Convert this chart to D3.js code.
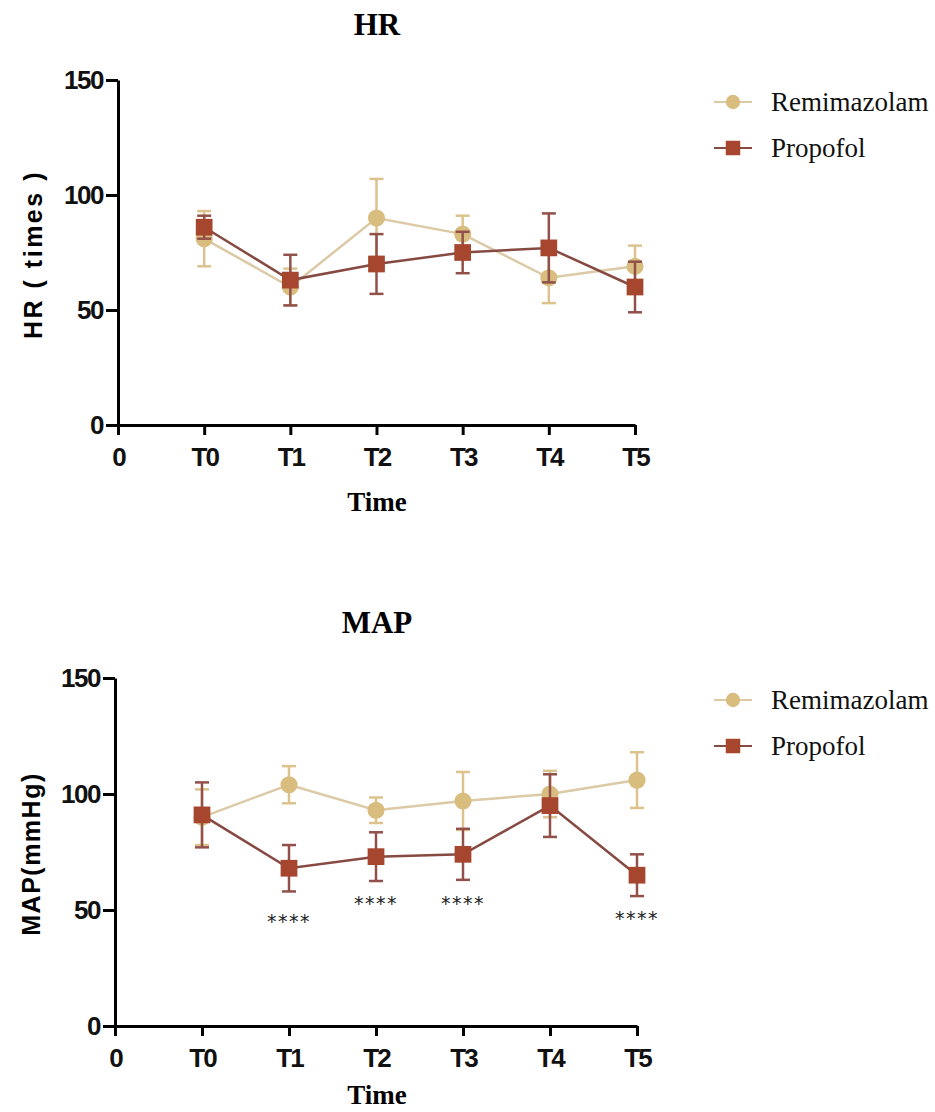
<!DOCTYPE html>
<html lang="en">
<head>
  <meta charset="UTF-8">
  <title>HR / MAP</title>
  <script src="https://cdnjs.cloudflare.com/ajax/libs/d3/7.8.5/d3.min.js"></script>
  <style>
    * { margin: 0; padding: 0; }
    html, body { background: #fff; }
    .tick text { font-family: "Liberation Sans", Arial, sans-serif; font-weight: bold; }
  </style>
</head>
<body>
<div id="app"></div>
<script>
  // time points and ticks
  const timePoints = ['T0', 'T1', 'T2', 'T3', 'T4', 'T5']
  const xTickLabels = ['0'].concat(timePoints)
  const yTicks = [0, 50, 100, 150]
  const seriesNames = ['Remimazolam', 'Propofol']

  // HR (times): mean and error
  const hrRemiMean = [81, 60, 90, 83, 64, 69]
  const hrRemiErr = [12, 8, 17, 8, 11, 9]
  const hrPropMean = [86, 63, 70, 75, 77, 60]
  const hrPropErr = [5, 11, 13, 9, 15, 11]

  // MAP (mmHg): mean and error
  const mapRemiMean = [90, 104, 93, 97, 100, 106]
  const mapRemiErr = [12, 8, 5.5, 12.5, 10, 12]
  const mapPropMean = [91, 68, 73, 74, 95, 65]
  const mapPropErr = [14, 10, 10.5, 11, 13.5, 9]

  // significance marks under Propofol (value where the stars sit)
  const mapStars = ['', '****', '****', '****', '', '****']
  const mapStarAt = [null, 47, 55, 55, null, 48.5]

  const remiColor = '#d8bd7f', remiLine = '#dcc9a6', remiBar = '#dcc38e'
  const propColor = '#a6462e', propLine = '#864a42', propBar = '#92504a'

  const W = 935, H = 1112
  const svg = d3.select('#app').append('svg')
    .attr('width', W).attr('height', H)
    .attr('viewBox', [0, 0, W, H])

  function panel(opt) {
    const g = svg.append('g')
    const x = d3.scalePoint().domain(xTickLabels).range([opt.left, opt.right])
    const y = d3.scaleLinear().domain([0, 150]).range([opt.bottom, opt.top])

    // title
    g.append('text')
      .attr('x', 377).attr('y', opt.titleY)
      .attr('text-anchor', 'middle')
      .attr('font-family', '"Liberation Serif", "Times New Roman", serif')
      .attr('font-weight', 'bold').attr('font-size', 31)
      .text(opt.title)

    // axes
    const ya = g.append('g').attr('transform', `translate(${opt.left},0)`)
      .call(d3.axisLeft(y).tickValues(yTicks).tickSize(12).tickSizeOuter(0).tickPadding(3))
    const xa = g.append('g').attr('transform', `translate(0,${opt.bottom})`)
      .call(d3.axisBottom(x).tickSize(10).tickSizeOuter(0).tickPadding(13))
    ;[ya, xa].forEach(a => {
      a.select('.domain').attr('stroke', '#000').attr('stroke-width', 3)
      a.selectAll('.tick line').attr('stroke', '#000').attr('stroke-width', 3)
      a.selectAll('.tick text').attr('fill', '#111').attr('font-size', 26)
    })
    ya.selectAll('.tick text').attr('letter-spacing', -1.5)
    xa.selectAll('.tick text').attr('letter-spacing', -2)

    // axis labels
    g.append('text')
      .attr('transform', `translate(${opt.yLabelX},${(opt.top + opt.bottom) / 2 + 2}) rotate(-90)`)
      .attr('text-anchor', 'middle')
      .attr('font-family', '"Liberation Sans", Arial, sans-serif')
      .attr('font-weight', 'bold').attr('font-size', 25)
      .attr('letter-spacing', opt.yLabelSpacing)
      .text(opt.yLabel)
    g.append('text')
      .attr('x', 377).attr('y', opt.bottom + opt.timeDy)
      .attr('text-anchor', 'middle')
      .attr('font-family', '"Liberation Serif", "Times New Roman", serif')
      .attr('font-weight', 'bold').attr('font-size', 27)
      .text('Time')

    const series = [
      { mean: opt.remiMean, err: opt.remiErr, color: remiColor, line: remiLine, bar: remiBar, shape: 'circle' },
      { mean: opt.propMean, err: opt.propErr, color: propColor, line: propLine, bar: propBar, shape: 'square' }
    ]
    const cap = 7
    series.forEach(s => {
      const pts = timePoints.map((t, i) => ({ t, v: s.mean[i], e: s.err[i] }))
      const bars = g.append('g').attr('stroke', s.bar).attr('stroke-width', 2.5).attr('fill', 'none')
      pts.forEach(p => {
        const cx = x(p.t)
        bars.append('line').attr('x1', cx).attr('x2', cx).attr('y1', y(p.v + p.e)).attr('y2', y(p.v - p.e))
        bars.append('line').attr('x1', cx - cap).attr('x2', cx + cap).attr('y1', y(p.v + p.e)).attr('y2', y(p.v + p.e))
        bars.append('line').attr('x1', cx - cap).attr('x2', cx + cap).attr('y1', y(p.v - p.e)).attr('y2', y(p.v - p.e))
      })
      g.append('path').datum(pts)
        .attr('fill', 'none').attr('stroke', s.line).attr('stroke-width', 2.5)
        .attr('d', d3.line().x(d => x(d.t)).y(d => y(d.v)))
      const sym = s.shape === 'circle' ? d3.symbolCircle : d3.symbolSquare
      const size = s.shape === 'circle' ? 230 : 280
      g.selectAll(null).data(pts).join('path')
        .attr('transform', d => `translate(${x(d.t)},${y(d.v)})`)
        .attr('d', d3.symbol(sym, size))
        .attr('fill', s.color)
    })

    // stars
    if (opt.stars) {
      g.selectAll(null).data(timePoints.map((t, i) => ({ t, s: opt.stars[i], v: opt.starAt[i] })).filter(d => d.s))
        .join('text')
        .attr('x', d => x(d.t)).attr('y', d => y(d.v))
        .attr('dy', '0.6em')
        .attr('text-anchor', 'middle')
        .attr('font-family', '"DejaVu Sans", sans-serif')
        .attr('font-size', 19).attr('letter-spacing', 1.5)
        .attr('fill', '#222')
        .text(d => d.s)
    }

    // legend
    const lg = g.append('g').attr('transform', `translate(733,${opt.legendY})`)
    series.forEach((s, i) => {
      const row = lg.append('g').attr('transform', `translate(0,${i * 46})`)
      row.append('line').attr('x1', -19).attr('x2', 19).attr('stroke', s.line).attr('stroke-width', 2)
      row.append('path')
        .attr('d', d3.symbol(s.shape === 'circle' ? d3.symbolCircle : d3.symbolSquare, s.shape === 'circle' ? 160 : 210))
        .attr('fill', s.color)
      row.append('text')
        .attr('x', 38).attr('y', 9)
        .attr('font-family', '"Liberation Serif", "Times New Roman", serif')
        .attr('font-size', 27).attr('fill', '#111')
        .text(seriesNames[i])
    })
  }

  panel({
    title: 'HR', titleY: 35, yLabel: 'HR ( times )', yLabelX: 42, yLabelSpacing: 2.5,
    left: 118, right: 635, top: 80, bottom: 425, legendY: 102, timeDy: 86,
    remiMean: hrRemiMean, remiErr: hrRemiErr, propMean: hrPropMean, propErr: hrPropErr
  })
  panel({
    title: 'MAP', titleY: 633, yLabel: 'MAP(mmHg)', yLabelX: 40, yLabelSpacing: 1.5,
    left: 115, right: 637, top: 678, bottom: 1026, legendY: 700, timeDy: 78,
    remiMean: mapRemiMean, remiErr: mapRemiErr, propMean: mapPropMean, propErr: mapPropErr,
    stars: mapStars, starAt: mapStarAt
  })
</script>
</body>
</html>
